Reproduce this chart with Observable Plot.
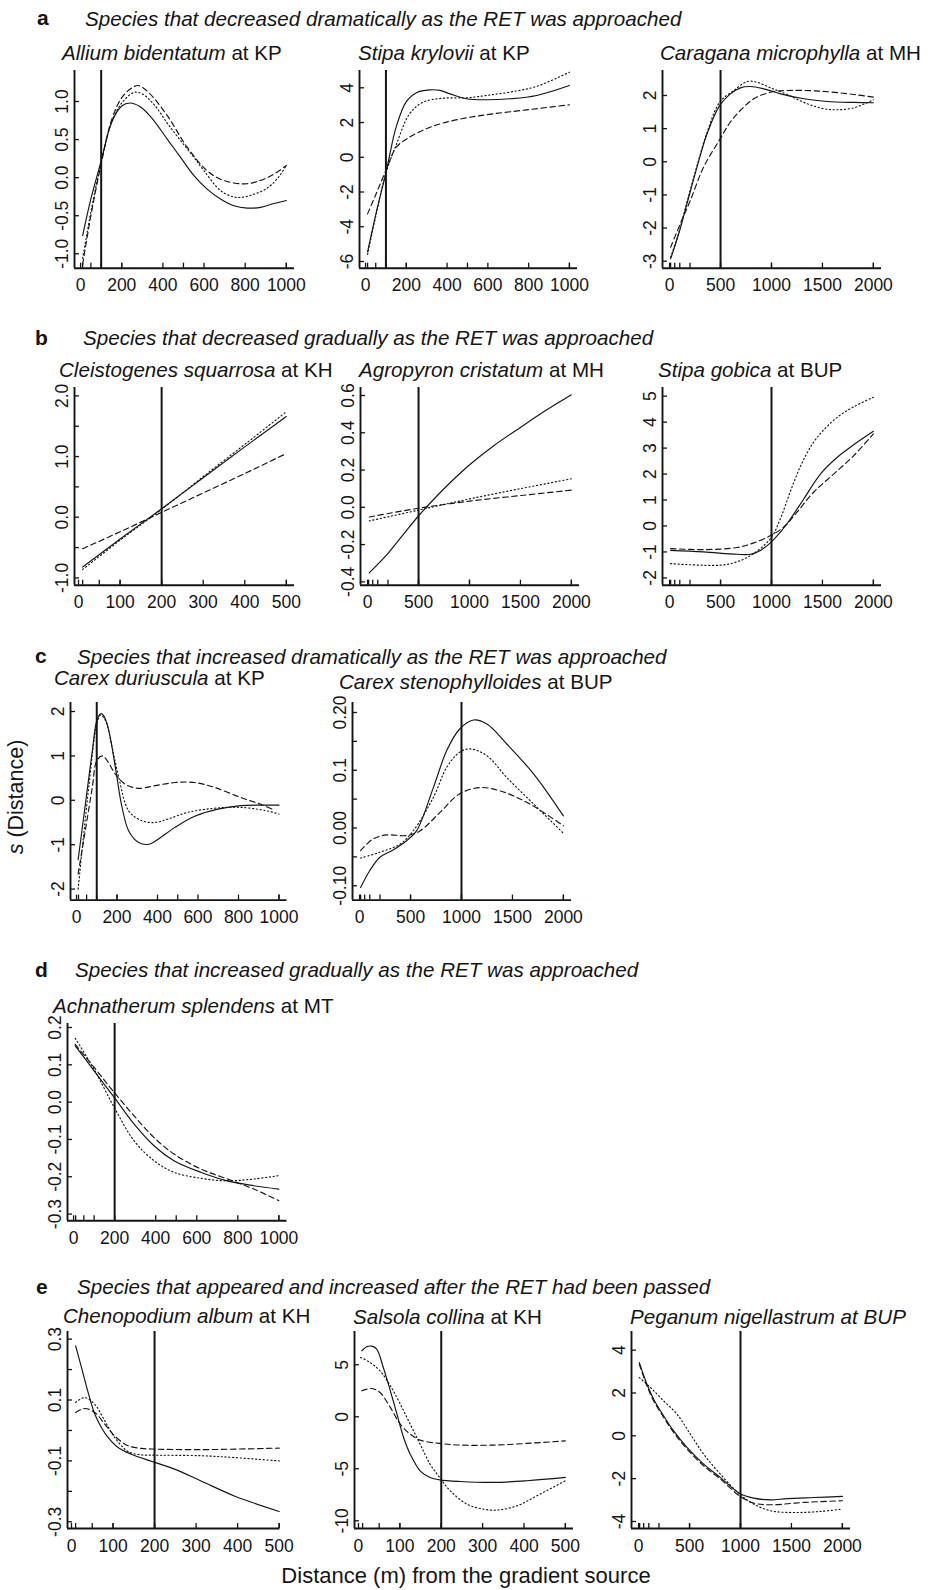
<!DOCTYPE html>
<html><head><meta charset="utf-8">
<script src="https://cdn.jsdelivr.net/npm/d3@7"></script>
<script src="https://cdn.jsdelivr.net/npm/@observablehq/plot@0.6"></script>
<style>
html,body{margin:0;padding:0;background:#fff;}
#page{position:relative;width:930px;height:1590px;overflow:hidden;background:#fff;font-family:"Liberation Sans",Arial,Helvetica,sans-serif;}
.panel{position:absolute;}
.panel svg{overflow:visible !important;max-width:none !important;background:transparent !important;}
#overlay{position:absolute;left:0;top:0;pointer-events:none;}
</style></head><body><div id="page"></div>
<script>
// ---------------- DATA ----------------
const groupLetters = ["a","b","c","d","e"];
const groupHeadings = [
  "Species that decreased dramatically as the RET was approached",
  "Species that decreased gradually as the RET was approached",
  "Species that increased dramatically as the RET was approached",
  "Species that increased gradually as the RET was approached",
  "Species that appeared and increased after the RET had been passed"
];
const panelIds = ["a1","a2","a3","b1","b2","b3","c1","c2","d","e1","e2","e3"];
const speciesNames = ["Allium bidentatum","Stipa krylovii","Caragana microphylla","Cleistogenes squarrosa","Agropyron cristatum","Stipa gobica","Carex duriuscula","Carex stenophylloides","Achnatherum splendens","Chenopodium album","Salsola collina","Peganum nigellastrum"];
const siteNames = ["KP","KP","MH","KH","MH","BUP","KP","BUP","MT","KH","KH","BUP"];
const retDistance = [100,100,500,200,500,1000,100,1000,200,200,200,1000];
const xMaxes = [1000,1000,2000,500,2000,2000,1000,2000,1000,500,500,2000];
const rugDistances = [10,50,100,200,500,1000,2000];
const xTicks500 = [0,100,200,300,400,500];
const xTicks1000 = [0,200,400,600,800,1000];
const xTicks2000 = [0,500,1000,1500,2000];
const yAxisLabel = ["s"," (Distance)"];
const xAxisLabel = "Distance (m) from the gradient source";

// y ticks: [value, label] (label "" = unlabeled tick)
const yTicks_a1 = [[-1,"-1.0"],[-0.5,"-0.5"],[0,"0.0"],[0.5,"0.5"],[1,"1.0"]];
const yTicks_a2 = [[-6,"-6"],[-4,"-4"],[-2,"-2"],[0,"0"],[2,"2"],[4,"4"]];
const yTicks_a3 = [[-3,"-3"],[-2,"-2"],[-1,"-1"],[0,"0"],[1,"1"],[2,"2"]];
const yTicks_b1 = [[-1,"-1.0"],[-0.5,""],[0,"0.0"],[0.5,""],[1,"1.0"],[1.5,""],[2,"2.0"]];
const yTicks_b2 = [[-0.4,"-0.4"],[-0.2,"-0.2"],[0,"0.0"],[0.2,"0.2"],[0.4,"0.4"],[0.6,"0.6"]];
const yTicks_b3 = [[-2,"-2"],[-1,"-1"],[0,"0"],[1,"1"],[2,"2"],[3,"3"],[4,"4"],[5,"5"]];
const yTicks_c1 = [[-2,"-2"],[-1,"-1"],[0,"0"],[1,"1"],[2,"2"]];
const yTicks_c2 = [[-0.1,"-0.10"],[-0.05,""],[0,"0.00"],[0.05,""],[0.1,"0.1"],[0.15,""],[0.2,"0.20"]];
const yTicks_d  = [[-0.3,"-0.3"],[-0.2,"-0.2"],[-0.1,"-0.1"],[0,"0.0"],[0.1,"0.1"],[0.2,"0.2"]];
const yTicks_e1 = [[-0.3,"-0.3"],[-0.2,""],[-0.1,"-0.1"],[0,""],[0.1,"0.1"],[0.2,""],[0.3,"0.3"]];
const yTicks_e2 = [[-10,"-10"],[-5,"-5"],[0,"0"],[5,"5"]];
const yTicks_e3 = [[-4,"-4"],[-2,"-2"],[0,"0"],[2,"2"],[4,"4"]];

// curves: [distance, s(distance)]
const a1_solid  = [[10,-0.76],[50,-0.28],[100,0.22],[150,0.72],[200,0.94],[240,0.98],[290,0.93],[350,0.77],[420,0.51],[485,0.27],[550,0.03],[615,-0.15],[680,-0.28],[745,-0.37],[810,-0.40],[875,-0.39],[940,-0.34],[1000,-0.30]];
const a1_dotted = [[10,-1.06],[50,-0.45],[100,0.2],[150,0.72],[200,0.98],[260,1.12],[300,1.1],[360,0.95],[420,0.72],[485,0.49],[550,0.27],[600,0.09],[680,-0.17],[740,-0.25],[780,-0.26],[840,-0.22],[906,-0.14],[960,0.0],[1000,0.16]];
const a1_dashed = [[10,-1.14],[50,-0.5],[100,0.18],[150,0.75],[200,1.05],[250,1.18],[280,1.21],[330,1.12],[420,0.82],[518,0.40],[615,0.09],[680,-0.02],[745,-0.07],[810,-0.08],[870,-0.04],[930,0.03],[1000,0.16]];

const a2_solid  = [[10,-5.45],[50,-3.3],[100,-0.9],[125,0.5],[150,1.74],[200,3.2],[250,3.72],[315,3.88],[365,3.85],[415,3.65],[495,3.37],[590,3.31],[710,3.37],[840,3.56],[1000,4.13]];
const a2_dotted = [[10,-5.6],[50,-3.4],[100,-0.9],[150,0.7],[216,2.5],[282,3.17],[380,3.4],[495,3.42],[593,3.56],[708,3.75],[839,4.08],[1000,4.9]];
const a2_dashed = [[10,-3.26],[52,-2.1],[100,-0.76],[151,0.58],[216,1.16],[298,1.64],[380,1.97],[495,2.27],[626,2.5],[790,2.73],[1000,3.02]];

const a3_solid  = [[10,-2.93],[89,-2.18],[170,-1.27],[269,-0.16],[367,0.84],[492,1.70],[597,2.05],[695,2.23],[793,2.27],[925,2.2],[1089,2.05],[1318,1.9],[1548,1.82],[1810,1.79],[2000,1.78]];
const a3_dotted = [[10,-2.88],[89,-2.15],[170,-1.22],[269,-0.12],[367,0.88],[492,1.80],[630,2.15],[761,2.42],[859,2.4],[990,2.23],[1154,2.03],[1351,1.75],[1515,1.6],[1646,1.57],[1810,1.63],[2000,1.87]];
const a3_dashed = [[10,-2.58],[105,-1.87],[203,-1.17],[334,-0.16],[492,0.67],[597,1.2],[695,1.55],[826,1.9],[990,2.1],[1154,2.15],[1482,2.13],[1810,2.03],[2000,1.95]];

const b1_solid  = [[10,-0.82],[100,-0.36],[200,0.14],[300,0.65],[400,1.16],[500,1.66]];
const b1_dotted = [[10,-0.86],[100,-0.38],[200,0.13],[300,0.67],[400,1.2],[500,1.74]];
const b1_dashed = [[10,-0.52],[100,-0.24],[200,0.08],[300,0.40],[400,0.72],[500,1.05]];

const b2_solid  = [[16,-0.352],[196,-0.25],[359,-0.14],[497,-0.048],[654,0.046],[817,0.136],[1013,0.234],[1242,0.332],[1503,0.43],[1732,0.514],[2000,0.604]];
const b2_dotted = [[16,-0.073],[500,-0.015],[1000,0.045],[1500,0.1],[2000,0.153]];
const b2_dashed = [[16,-0.052],[500,-0.005],[1000,0.033],[1500,0.063],[2000,0.092]];

const b3_solid  = [[10,-0.94],[334,-1.0],[662,-1.09],[793,-1.09],[892,-0.94],[997,-0.62],[1089,-0.23],[1187,0.28],[1318,1.05],[1482,2.01],[1646,2.65],[1810,3.14],[2000,3.65]];
const b3_dotted = [[10,-1.45],[498,-1.51],[662,-1.38],[826,-1.06],[997,-0.45],[1089,0.3],[1187,1.35],[1290,2.35],[1400,3.15],[1500,3.65],[1650,4.2],[1810,4.6],[2000,4.96]];
const b3_dashed = [[10,-0.87],[334,-0.91],[662,-0.83],[826,-0.65],[997,-0.36],[1121,-0.04],[1252,0.54],[1416,1.31],[1613,2.01],[1810,2.72],[2000,3.55]];

const c1_solid  = [[8,-1.34],[46,-0.01],[78,1.11],[100,1.79],[119,1.95],[135,1.9],[160,1.56],[192,0.74],[225,-0.16],[258,-0.69],[307,-0.95],[356,-0.99],[405,-0.87],[486,-0.61],[584,-0.36],[698,-0.2],[812,-0.12],[943,-0.11],[1000,-0.11]];
const c1_dotted = [[8,-2.0],[29,-1.06],[62,0.36],[100,1.71],[119,1.92],[144,1.79],[176,1.19],[209,0.51],[258,-0.24],[323,-0.46],[388,-0.5],[453,-0.42],[551,-0.27],[682,-0.18],[812,-0.16],[943,-0.24],[1000,-0.31]];
const c1_dashed = [[8,-1.66],[46,-0.61],[78,0.29],[100,0.89],[127,1.0],[152,0.89],[192,0.59],[241,0.36],[307,0.27],[388,0.33],[486,0.4],[584,0.4],[682,0.29],[812,0.06],[910,-0.09],[976,-0.22]];

const c2_solid  = [[10,-0.103],[99,-0.074],[197,-0.051],[329,-0.038],[461,-0.022],[559,-0.005],[724,0.07],[855,0.134],[980,0.171],[1118,0.187],[1250,0.18],[1447,0.145],[1711,0.093],[2000,0.021]];
const c2_dotted = [[10,-0.052],[197,-0.042],[395,-0.028],[526,-0.005],[724,0.053],[855,0.105],[980,0.131],[1086,0.137],[1250,0.125],[1447,0.087],[1711,0.041],[2000,-0.009]];
const c2_dashed = [[10,-0.039],[132,-0.019],[263,-0.012],[461,-0.013],[592,-0.005],[789,0.027],[980,0.059],[1184,0.07],[1382,0.064],[1645,0.044],[2000,0.004]];

const d_solid  = [[8,0.151],[100,0.084],[198,0.0125],[295,-0.059],[392,-0.117],[489,-0.157],[619,-0.188],[749,-0.211],[878,-0.224],[1000,-0.233]];
const d_dotted = [[8,0.171],[100,0.088],[198,-0.014],[295,-0.104],[392,-0.157],[489,-0.188],[619,-0.204],[749,-0.211],[878,-0.206],[1000,-0.197]];
const d_dashed = [[8,0.155],[100,0.093],[198,0.026],[295,-0.037],[392,-0.095],[489,-0.139],[619,-0.179],[749,-0.206],[878,-0.233],[1000,-0.264]];

const e1_solid  = [[10,0.278],[24,0.207],[40,0.125],[56,0.054],[72,0.01],[88,-0.023],[112,-0.056],[144,-0.078],[194,-0.102],[248,-0.127],[312,-0.166],[392,-0.215],[500,-0.266]];
const e1_dotted = [[10,0.092],[32,0.108],[56,0.086],[80,0.032],[104,-0.023],[136,-0.069],[168,-0.08],[194,-0.081],[312,-0.083],[392,-0.089],[500,-0.1]];
const e1_dashed = [[10,0.059],[32,0.072],[56,0.059],[80,0.021],[104,-0.018],[136,-0.05],[168,-0.059],[194,-0.061],[312,-0.063],[500,-0.058]];

const e2_solid  = [[8,6.35],[20,6.73],[32,6.79],[44,6.51],[60,4.74],[77,2.5],[93,0.26],[109,-1.99],[125,-3.59],[149,-5.19],[173,-5.83],[196,-6.06],[246,-6.22],[327,-6.31],[407,-6.15],[500,-5.83]];
const e2_dotted = [[5,5.71],[28,5.22],[52,4.42],[77,2.98],[101,1.22],[125,-0.71],[149,-2.63],[173,-4.55],[196,-5.83],[222,-7.12],[262,-8.4],[302,-8.88],[335,-8.97],[383,-8.56],[431,-7.6],[500,-6.15]];
const e2_dashed = [[8,2.5],[32,2.72],[52,2.34],[77,0.9],[101,-0.71],[125,-1.67],[149,-2.24],[196,-2.56],[246,-2.72],[327,-2.72],[407,-2.56],[500,-2.31]];

const e3_solid  = [[7,3.42],[82,2.41],[148,1.71],[246,0.93],[344,0.23],[475,-0.54],[639,-1.32],[803,-1.95],[990,-2.68],[1131,-2.91],[1295,-2.99],[1459,-2.93],[1721,-2.88],[2000,-2.83]];
const e3_dotted = [[7,2.72],[115,2.26],[246,1.63],[377,1.01],[508,0.08],[639,-0.86],[803,-1.79],[990,-2.72],[1131,-3.19],[1295,-3.5],[1525,-3.58],[1787,-3.53],[2000,-3.42]];
const e3_dashed = [[7,3.35],[82,2.33],[148,1.63],[246,0.86],[344,0.16],[475,-0.62],[639,-1.4],[803,-2.02],[990,-2.8],[1131,-3.14],[1295,-3.22],[1623,-3.11],[2000,-3.03]];

// ---------------- LAYOUT (pixel frame boxes + scale domains) ----------------
const layout = {
  a1: {L:74,   R:294,   T:70,    B:267.7,  xd:[-29.6,1039.6], yd:[-1.189,1.407]},
  a2: {L:359,  R:577,   T:70,    B:267.7,  xd:[-29.6,1039.6], yd:[-6.386,4.996]},
  a3: {L:662,  R:881,   T:70,    B:267.7,  xd:[-69.6,2079.6], yd:[-3.211,2.754]},
  b1: {L:73.5, R:293.5, T:387.3, B:585,    xd:[-9.6,519.6],   yd:[-1.12,2.138]},
  b2: {L:360,  R:579,   T:387.3, B:585,    xd:[-69.6,2079.6], yd:[-0.418,0.643]},
  b3: {L:662,  R:881,   T:387.3, B:585,    xd:[-69.6,2079.6], yd:[-2.281,5.335]},
  c1: {L:70,   R:286.5, T:701.7, B:899.3,  xd:[-29.6,1039.6], yd:[-2.248,2.203]},
  c2: {L:351.5,R:570.5, T:701.7, B:899.3,  xd:[-69.6,2079.6], yd:[-0.1248,0.2173]},
  d:  {L:67,   R:286.5, T:1022.7,B:1220,   xd:[-29.6,1039.6], yd:[-0.318,0.2107]},
  e1: {L:66.5, R:279,   T:1330.7,B:1527.7, xd:[-9.6,502],     yd:[-0.322,0.325]},
  e2: {L:354,  R:573,   T:1330.7,B:1527.7, xd:[-9.6,519.6],   yd:[-10.74,8.2]},
  e3: {L:631,  R:850,   T:1330.7,B:1527.7, xd:[-69.6,2079.6], yd:[-4.327,4.87]}
};
const titlePos = {
  a1:[62,59.5], a2:[358,60], a3:[660,60],
  b1:[59,377], b2:[359,377], b3:[658,377],
  c1:[54,685], c2:[339,689],
  d:[53,1012.5],
  e1:[63,1323], e2:[353,1323.5], e3:[630,1324]
};
const headingPos = [[37,25,85,26],[35,345,83,345],[35,663,77,664],[35,977,75,977],[36,1294,77,1294]];

// ---------------- DRAW ----------------
const ink = "#141414";
const FONT = '"Liberation Sans", Arial, Helvetica, sans-serif';
const curveData = {
  a1:[a1_solid,a1_dotted,a1_dashed], a2:[a2_solid,a2_dotted,a2_dashed], a3:[a3_solid,a3_dotted,a3_dashed],
  b1:[b1_solid,b1_dotted,b1_dashed], b2:[b2_solid,b2_dotted,b2_dashed], b3:[b3_solid,b3_dotted,b3_dashed],
  c1:[c1_solid,c1_dotted,c1_dashed], c2:[c2_solid,c2_dotted,c2_dashed],
  d:[d_solid,d_dotted,d_dashed],
  e1:[e1_solid,e1_dotted,e1_dashed], e2:[e2_solid,e2_dotted,e2_dashed], e3:[e3_solid,e3_dotted,e3_dashed]
};
const yTickSets = {a1:yTicks_a1,a2:yTicks_a2,a3:yTicks_a3,b1:yTicks_b1,b2:yTicks_b2,b3:yTicks_b3,c1:yTicks_c1,c2:yTicks_c2,d:yTicks_d,e1:yTicks_e1,e2:yTicks_e2,e3:yTicks_e3};
const dashes = [null, "1.2,2.6", "5.5,3.5"];
const page = document.getElementById("page");

panelIds.forEach((id, k) => {
  const box = layout[id];
  const mL = 55, mR = 20, mT = 30, mB = 36;
  const w = box.R - box.L, h = box.B - box.T;
  const x0 = box.xd[0], y0 = box.yd[0];
  const xmax = xMaxes[k];
  const xt = xmax === 500 ? xTicks500 : xmax === 1000 ? xTicks1000 : xTicks2000;
  const rug = rugDistances.filter(v => v <= xmax);
  const yt = yTickSets[id];
  const tickStyle = {stroke: ink, strokeWidth: 1.3};
  const chart = Plot.plot({
    width: w + mL + mR, height: h + mT + mB,
    marginLeft: mL, marginRight: mR, marginTop: mT, marginBottom: mB,
    style: {background: "transparent", overflow: "visible", fontFamily: FONT},
    x: {domain: box.xd, axis: null},
    y: {domain: box.yd, axis: null},
    marks: [
      ...curveData[id].map((data, j) => Plot.line(data, {
        x: d => d[0], y: d => d[1], curve: "catmull-rom",
        stroke: ink, strokeWidth: 1.15, strokeDasharray: dashes[j]
      })),
      Plot.ruleX([retDistance[k]], {x: d => d, stroke: ink, strokeWidth: 2}),
      Plot.ruleX([x0], {x: d => d, stroke: ink, strokeWidth: 1.9}),
      Plot.ruleY([y0], {y: d => d, stroke: ink, strokeWidth: 1.9}),
      Plot.ruleX(xt, {x: d => d, y1: () => y0, y2: () => y0, insetTop: -5, ...tickStyle}),
      Plot.ruleX(rug, {x: d => d, y1: () => y0, y2: () => y0, insetTop: -5, ...tickStyle}),
      Plot.ruleY(yt, {y: d => d[0], x1: () => x0, x2: () => x0, insetRight: -5, ...tickStyle}),
      Plot.text(xt, {x: d => d, y: () => y0, dy: 17.5, text: d => String(d), fontSize: 17.5, fill: ink, lineAnchor: "middle", textAnchor: "middle"}),
      Plot.text(yt.filter(d => d[1] !== ""), {x: () => x0, y: d => d[0], dx: -12.5, text: d => d[1], rotate: -90, fontSize: 17.5, fill: ink, lineAnchor: "middle", textAnchor: "middle"})
    ]
  });
  const div = document.createElement("div");
  div.className = "panel";
  div.style.left = (box.L - mL) + "px";
  div.style.top = (box.T - mT) + "px";
  div.appendChild(chart);
  page.appendChild(div);
});

// overlay texts
const ov = d3.select(page).append("svg").attr("id","overlay")
  .attr("width",930).attr("height",1590)
  .style("font-family", FONT).attr("fill", ink);

groupLetters.forEach((g, i) => {
  const [lx, ly, tx, ty] = headingPos[i];
  ov.append("text").attr("x", lx).attr("y", ly).attr("font-size", 21).attr("font-weight", "bold").text(g);
  ov.append("text").attr("x", tx).attr("y", ty).attr("font-size", 20.6).attr("font-style", "italic").text(groupHeadings[i]);
});

panelIds.forEach((id, k) => {
  const [x, y] = titlePos[id];
  const t = ov.append("text").attr("x", x).attr("y", y).attr("font-size", 20.6);
  if (id === "e3") {
    t.attr("font-style", "italic").text(speciesNames[k] + " at " + siteNames[k]);
  } else {
    t.append("tspan").attr("font-style", "italic").text(speciesNames[k]);
    t.append("tspan").text(" at " + siteNames[k]);
  }
});

const yl = ov.append("text").attr("transform", "translate(22.5,797) rotate(-90)")
  .attr("text-anchor", "middle").attr("font-size", 21.5);
yl.append("tspan").attr("font-style", "italic").text(yAxisLabel[0]);
yl.append("tspan").text(yAxisLabel[1]);

ov.append("text").attr("x", 466).attr("y", 1583).attr("text-anchor", "middle")
  .attr("font-size", 22).text(xAxisLabel);
</script></body></html>
